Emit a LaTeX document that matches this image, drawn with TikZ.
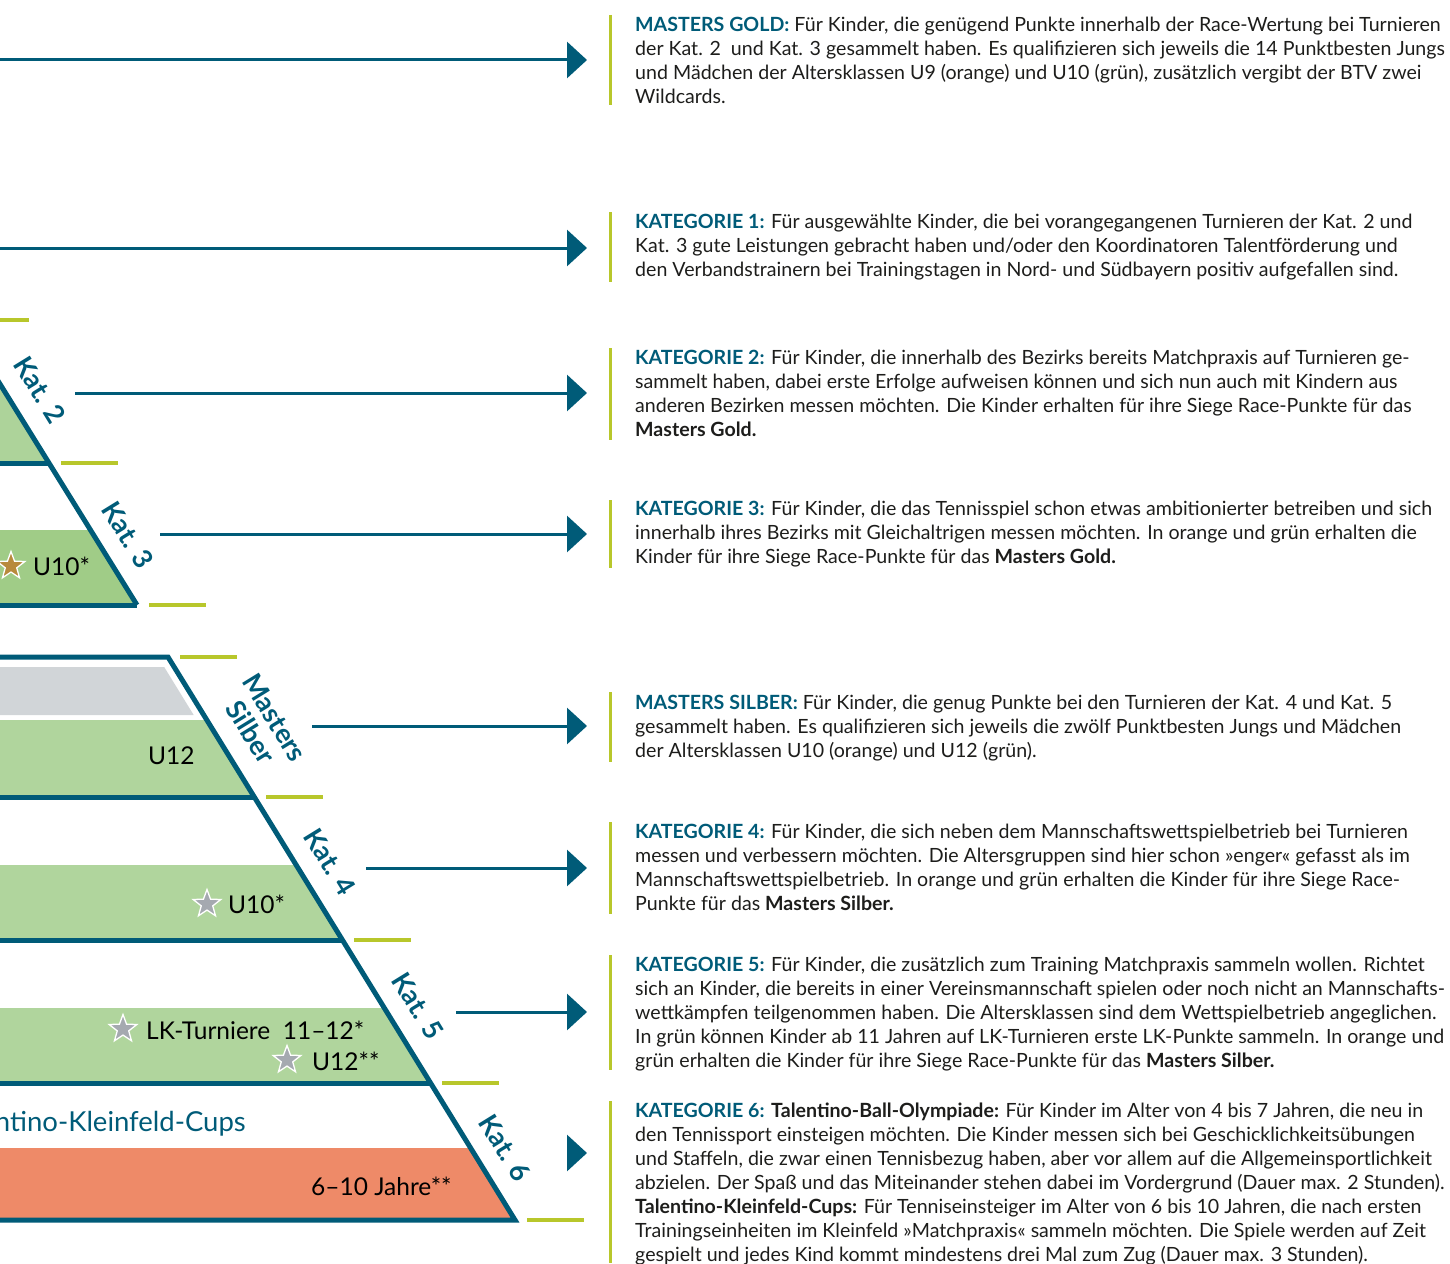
\documentclass[tikz,border=0pt]{standalone}
\usepackage{fontspec}
\setmainfont{Lato}
\usetikzlibrary{arrows.meta,shapes.geometric}
\definecolor{bvteal}{HTML}{005B78}
\definecolor{bvlime}{HTML}{B8C72B}
\definecolor{gLight}{HTML}{ADD39A}
\definecolor{gMid}{HTML}{A0CC87}
\definecolor{gLow}{HTML}{B0D59D}
\definecolor{bandgrey}{HTML}{D1D5D8}
\definecolor{bvorange}{HTML}{EE8A68}
\definecolor{stargold}{HTML}{B88A3C}
\definecolor{stargrey}{HTML}{A5A9B0}
\definecolor{txtdark}{HTML}{1D1D1B}
\newcommand\hd[1]{{\bfseries\color{bvteal}#1}}
\newcommand\strongtxt[1]{{\bfseries #1}}
\tikzset{
  body/.style={anchor=north west, inner sep=0pt, align=left, text=txtdark,
    font=\fontsize{19.6}{24}\selectfont},
  sidebar/.style={draw=bvlime, line width=3pt},
  limedash/.style={draw=bvlime, line width=4pt},
  outline/.style={draw=bvteal, line width=5pt, line join=miter},
  arr/.style={draw=bvteal, line width=3pt, -{Triangle[length=20pt,width=36pt]}},
  katlabel/.style={text=bvteal, font=\fontsize{27}{28}\selectfont\bfseries,
    rotate=-58.35, inner sep=0pt, align=center},
  pyrtext/.style={font=\fontsize{24.5}{26}\selectfont, text=black, inner sep=0pt, anchor=base west},
  staricon/.style={star, star points=5, star point ratio=2.4, minimum size=29pt,
    inner sep=0pt, draw=white, line width=1.3pt}
}
\begin{document}
\begin{tikzpicture}[x=1pt,y=-1pt]
\useasboundingbox (0,0) rectangle (1450,1263);

% ---------- upper pyramid (Masters Gold) ----------
\fill[gLight] (-120,250) -- (-83.1,250) -- (48.96,463) -- (-120,463) -- cycle;
\fill[gMid] (-10,530) -- (90.5,530) -- (137,605) -- (-10,605) -- cycle;
\coordinate (uTop) at (-83.1,250);
\coordinate (uK2) at (48.96,463);
\coordinate (uK3) at (137,605);
\draw[outline] (uTop) -- (uK3);
\draw[outline] (-10,463) -- (uK2);
\draw[outline] (-10,605) -- (uK3);

% ---------- lower pyramid (Masters Silber) ----------
\fill[bandgrey] (-10,667) -- (164.2,667) -- (193.7,715) -- (-10,715) -- cycle;
\fill[gLow] (-10,720) -- (206.8,720) -- (254.3,797) -- (-10,797) -- cycle;
\fill[gLow] (-10,865) -- (296.2,865) -- (342.4,940) -- (-10,940) -- cycle;
\fill[gLow] (-10,1008) -- (384.3,1008) -- (430.5,1083) -- (-10,1083) -- cycle;
\fill[bvorange] (-10,1148) -- (470.6,1148) -- (515,1220) -- (-10,1220) -- cycle;
\coordinate (lTop) at (168,657);
\coordinate (lMS) at (254.3,797);
\coordinate (lK4) at (342.4,940);
\coordinate (lK5) at (430.5,1083);
\coordinate (lK6) at (515,1220);
\draw[outline] (-10,657) -- (lTop) -- (lK6) -- (-10,1220);
\draw[outline] (-10,797) -- (lMS);
\draw[outline] (-10,940) -- (lK4);
\draw[outline] (-10,1083) -- (lK5);

% ---------- lime dashes ----------
\draw[limedash] (-27.7,320) -- (29.3,320);
\draw[limedash] (61,463) -- (118,463);
\draw[limedash] (149,605) -- (206,605);
\draw[limedash] (180,657) -- (237,657);
\draw[limedash] (266,797) -- (323,797);
\draw[limedash] (354,940) -- (411,940);
\draw[limedash] (442,1083) -- (499,1083);
\draw[limedash] (527,1220) -- (584,1220);

% ---------- slanted labels ----------
\node[katlabel] (lab2) at (40,390) {Kat. 2};
\node[katlabel] (lab3) at (128,535) {Kat. 3};
\node[katlabel] (labms) at (263,725) {Masters\\Silber};
\node[katlabel] (lab4) at (330,862) {Kat. 4};
\node[katlabel] (lab5) at (418,1006) {Kat. 5};
\node[katlabel] (lab6) at (505,1148) {Kat. 6};

% ---------- pyramid texts ----------
\node[staricon, fill=stargold] (s1) at (11,566) {};
\node[pyrtext] (t1) at (33,575.5) {U10*};
\node[pyrtext] (t2) at (148,764) {U12};
\node[staricon, fill=stargrey] (s2) at (207,904) {};
\node[pyrtext] (t3) at (228,913.5) {U10*};
\node[staricon, fill=stargrey] (s3) at (123,1029) {};
\node[pyrtext] (t4) at (146,1039) {LK-Turniere\ \ 11–12*};
\node[staricon, fill=stargrey] (s4) at (287,1060) {};
\node[pyrtext] (t5) at (312,1070) {U12**};
\node[pyrtext, anchor=base east, text=bvteal, font=\fontsize{27.5}{28}\selectfont] (t6) at (246,1131) {ntino-Kleinfeld-Cups};
\node[pyrtext] (t7) at (311,1195) {6–10 Jahre**};

% ---------- arrows ----------
\coordinate (aMGs) at (-10,60);   \coordinate (aMGe) at (587,60);
\coordinate (aK1s) at (-10,248);  \coordinate (aK1e) at (587,248);
\coordinate (aK2s) at (75,393);   \coordinate (aK2e) at (587,393);
\coordinate (aK3s) at (160,534);  \coordinate (aK3e) at (587,534);
\coordinate (aMSs) at (312,726);  \coordinate (aMSe) at (587,726);
\coordinate (aK4s) at (366,868);  \coordinate (aK4e) at (587,868);
\coordinate (aK5s) at (456,1012); \coordinate (aK5e) at (587,1012);
\coordinate (aK6s) at (568,1153); \coordinate (aK6e) at (587,1153);
\draw[arr] (aMGs) -- (aMGe);
\draw[arr] (aK1s) -- (aK1e);
\draw[arr] (aK2s) -- (aK2e);
\draw[arr] (aK3s) -- (aK3e);
\draw[arr] (aMSs) -- (aMSe);
\draw[arr] (aK4s) -- (aK4e);
\draw[arr] (aK5s) -- (aK5e);
\draw[arr] (aK6s) -- (aK6e);

% ---------- side bars ----------
\draw[sidebar] (610,15) -- (610,105);
\draw[sidebar] (610,212) -- (610,282);
\draw[sidebar] (610,348) -- (610,440);
\draw[sidebar] (610,500) -- (610,568);
\draw[sidebar] (610,692) -- (610,762);
\draw[sidebar] (610,822) -- (610,914);
\draw[sidebar] (610,955) -- (610,1070);
\draw[sidebar] (610,1101) -- (610,1263);

% ---------- text blocks ----------
\node[body] (bMG) at (635,14.2) {\strut\hd{MASTERS GOLD:} Für Kinder, die genügend Punkte innerhalb der Race-Wertung bei Turnieren\\
der Kat. 2\ \ und Kat. 3 gesammelt haben. Es qualifizieren sich jeweils die 14 Punktbesten Jungs\\
und Mädchen der Altersklassen U9 (orange) und U10 (grün), zusätzlich vergibt der BTV zwei\\
Wildcards.};

\node[body] (bK1) at (635,211.2) {\strut\hd{KATEGORIE 1:} Für ausgewählte Kinder, die bei vorangegangenen Turnieren der Kat. 2 und\\
Kat. 3 gute Leistungen gebracht haben und/oder den Koordinatoren Talentförderung und\\
den Verbandstrainern bei Trainingstagen in Nord- und Südbayern positiv aufgefallen sind.};

\node[body] (bK2) at (635,347.2) {\strut\hd{KATEGORIE 2:} Für Kinder, die innerhalb des Bezirks bereits Matchpraxis auf Turnieren ge-\\
sammelt haben, dabei erste Erfolge aufweisen können und sich nun auch mit Kindern aus\\
anderen Bezirken messen möchten. Die Kinder erhalten für ihre Siege Race-Punkte für das\\
\strongtxt{Masters Gold.}};

\node[body] (bK3) at (635,498.2) {\strut\hd{KATEGORIE 3:} Für Kinder, die das Tennisspiel schon etwas ambitionierter betreiben und sich\\
innerhalb ihres Bezirks mit Gleichaltrigen messen möchten. In orange und grün erhalten die\\
Kinder für ihre Siege Race-Punkte für das \strongtxt{Masters Gold.}};

\node[body] (bMS) at (635,692.2) {\strut\hd{MASTERS SILBER:} Für Kinder, die genug Punkte bei den Turnieren der Kat. 4 und Kat. 5\\
gesammelt haben. Es qualifizieren sich jeweils die zwölf Punktbesten Jungs und Mädchen\\
der Altersklassen U10 (orange) und U12 (grün).};

\node[body] (bK4) at (635,821.2) {\strut\hd{KATEGORIE 4:} Für Kinder, die sich neben dem Mannschaftswettspielbetrieb bei Turnieren\\
messen und verbessern möchten. Die Altersgruppen sind hier schon »enger« gefasst als im\\
Mannschaftswettspielbetrieb. In orange und grün erhalten die Kinder für ihre Siege Race-\\
Punkte für das \strongtxt{Masters Silber.}};

\node[body] (bK5) at (635,954.2) {\strut\hd{KATEGORIE 5:} Für Kinder, die zusätzlich zum Training Matchpraxis sammeln wollen. Richtet\\
sich an Kinder, die bereits in einer Vereinsmannschaft spielen oder noch nicht an Mannschafts-\\
wettkämpfen teilgenommen haben. Die Altersklassen sind dem Wettspielbetrieb angeglichen.\\
In grün können Kinder ab 11 Jahren auf LK-Turnieren erste LK-Punkte sammeln. In orange und\\
grün erhalten die Kinder für ihre Siege Race-Punkte für das \strongtxt{Masters Silber.}};

\node[body] (bK6) at (635,1100.2) {\strut\hd{KATEGORIE 6:} \strongtxt{Talentino-Ball-Olympiade:} Für Kinder im Alter von 4 bis 7 Jahren, die neu in\\
den Tennissport einsteigen möchten. Die Kinder messen sich bei Geschicklichkeitsübungen\\
und Staffeln, die zwar einen Tennisbezug haben, aber vor allem auf die Allgemeinsportlichkeit\\
abzielen. Der Spaß und das Miteinander stehen dabei im Vordergrund (Dauer max. 2 Stunden).\\
\strongtxt{Talentino-Kleinfeld-Cups:} Für Tenniseinsteiger im Alter von 6 bis 10 Jahren, die nach ersten\\
Trainingseinheiten im Kleinfeld »Matchpraxis« sammeln möchten. Die Spiele werden auf Zeit\\
gespielt und jedes Kind kommt mindestens drei Mal zum Zug (Dauer max. 3 Stunden).};
\end{tikzpicture}
\end{document}
